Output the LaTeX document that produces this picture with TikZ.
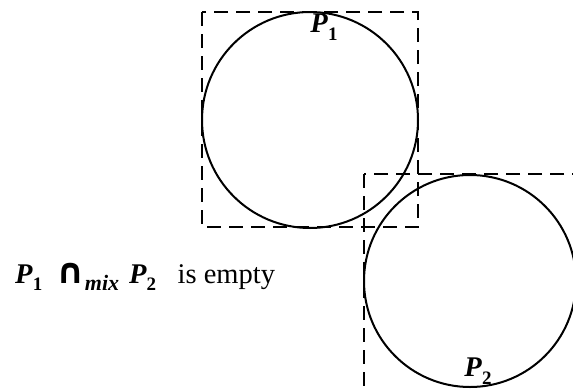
\documentclass[tikz,border=0pt]{standalone}
\usepackage{fontspec}
\setmainfont{Liberation Serif}
\newfontfamily\opfont{DejaVu Sans}
\newcommand{\subidx}[1]{\raisebox{-0.28em}{\fontsize{19}{19}\selectfont\bfseries #1}}
\newcommand{\polyP}[1]{\textbf{\textit{P}}\subidx{#1}}

\begin{document}
\begin{tikzpicture}[x=1pt,y=-1pt,
  fig/.style={line width=2pt},
  bbox/.style={line width=2pt, dash pattern=on 14pt off 8pt},
  lbl/.style={inner sep=0pt, font=\fontsize{28.5}{32}\selectfont}]
\useasboundingbox (0,0) rectangle (573,389);
\clip (0,0) rectangle (573,389);
% bounding boxes
\draw[bbox] (202,12) rectangle (418,227);
\draw[bbox] (364,174) rectangle (590,400);
% polygons
\draw[fig] (310,120) circle[radius=108];
\draw[fig] (470,281) circle[radius=106];
\node[lbl] (p1) at (324,27) {\polyP{1}};
\node[lbl] (p2) at (478,371) {\polyP{2}};
\node[lbl, anchor=base west] (res) at (15,283) {\polyP{1}\hspace{0.5em}{\opfont\bfseries\fontsize{35}{35}\selectfont ∩}\raisebox{-0.28em}{\fontsize{22}{22}\selectfont\bfseries\itshape mix}\hspace{0.35em}\polyP{2}\hspace{0.75em}is empty};
\end{tikzpicture}
\end{document}
